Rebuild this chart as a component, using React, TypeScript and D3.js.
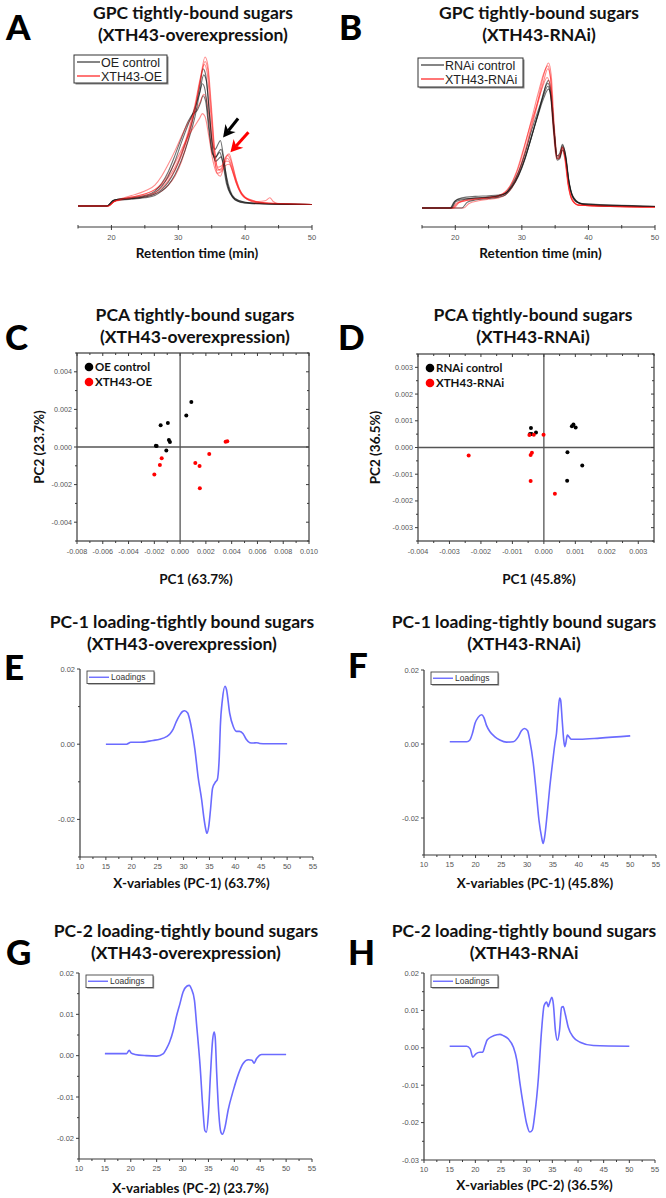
import React from 'react';
import * as d3 from 'd3';

type Pt = [number, number];

// ---- GPC traces (retention time in min, relative intensity) ----
const oeControlTraces: Pt[][] = [
  [[15, 0], [19.3, 0], [20.2, 0.035], [21, 0.045], [23, 0.05], [25, 0.06], [26.5, 0.08], [27.5, 0.11], [28.5, 0.16], [29.5, 0.24], [30.5, 0.35], [31.5, 0.48], [32.5, 0.64], [33.2, 0.8], [33.7, 0.92], [34.1, 0.88], [34.6, 0.65], [35.1, 0.42], [35.5, 0.38], [36, 0.42], [36.3, 0.44], [36.7, 0.35], [37.2, 0.2], [37.8, 0.1], [38.5, 0.05], [40, 0.025], [43, 0.015], [50, 0.01]],
  [[15, 0], [19.3, 0], [20.2, 0.035], [21, 0.045], [23, 0.055], [25, 0.07], [26.5, 0.1], [27.5, 0.15], [28.5, 0.23], [29.5, 0.34], [30.5, 0.46], [31.5, 0.57], [32.2, 0.62], [32.8, 0.64], [33.3, 0.69], [33.7, 0.74], [34.1, 0.7], [34.6, 0.5], [35.1, 0.35], [35.6, 0.33], [36.2, 0.36], [36.7, 0.28], [37.2, 0.15], [37.8, 0.08], [38.5, 0.04], [40, 0.02], [50, 0.01]],
  [[15, 0], [19.4, 0], [20.3, 0.03], [21, 0.04], [23, 0.045], [25, 0.055], [26.5, 0.07], [27.5, 0.1], [28.5, 0.14], [29.5, 0.21], [30.5, 0.31], [31.5, 0.44], [32.5, 0.6], [33.2, 0.76], [33.8, 0.88], [34.2, 0.84], [34.7, 0.6], [35.2, 0.36], [35.6, 0.3], [36.1, 0.32], [36.4, 0.33], [36.8, 0.27], [37.3, 0.15], [38, 0.07], [39, 0.03], [41, 0.015], [50, 0.01]],
  [[15, 0], [19.3, 0], [20.2, 0.035], [21, 0.045], [23, 0.05], [25, 0.065], [26.5, 0.09], [27.5, 0.13], [28.5, 0.2], [29.5, 0.3], [30.5, 0.43], [31.5, 0.55], [32.5, 0.66], [33.2, 0.76], [33.6, 0.82], [34, 0.78], [34.5, 0.58], [35, 0.38], [35.5, 0.32], [36, 0.36], [36.4, 0.38], [36.9, 0.28], [37.4, 0.14], [38, 0.07], [39, 0.035], [41, 0.02], [50, 0.01]],
];

const oeXthTraces: Pt[][] = [
  [[15, 0], [19.5, 0], [20.4, 0.03], [21.5, 0.04], [23, 0.05], [25, 0.06], [26.5, 0.08], [27.5, 0.1], [28.5, 0.14], [29.5, 0.2], [30.5, 0.3], [31.5, 0.45], [32.5, 0.65], [33.3, 0.85], [34, 1.0], [34.4, 0.95], [34.9, 0.7], [35.4, 0.4], [35.9, 0.25], [36.4, 0.24], [36.9, 0.3], [37.4, 0.34], [37.9, 0.3], [38.5, 0.2], [39.2, 0.11], [40, 0.06], [41, 0.04], [42, 0.03], [43, 0.035], [43.7, 0.055], [44.2, 0.03], [45, 0.015], [50, 0.01]],
  [[15, 0], [19.5, 0], [20.4, 0.03], [21.5, 0.045], [23, 0.06], [25, 0.08], [26.5, 0.11], [27.5, 0.14], [28.5, 0.19], [29.5, 0.26], [30.5, 0.36], [31.5, 0.5], [32.5, 0.68], [33.3, 0.86], [33.9, 0.95], [34.3, 0.9], [34.8, 0.65], [35.3, 0.38], [35.8, 0.22], [36.3, 0.2], [36.8, 0.26], [37.3, 0.32], [37.8, 0.29], [38.4, 0.2], [39, 0.12], [40, 0.06], [41.5, 0.03], [43, 0.02], [50, 0.01]],
  [[15, 0], [19.5, 0], [20.4, 0.03], [21.5, 0.05], [23, 0.07], [25, 0.1], [26.5, 0.14], [27.5, 0.2], [28.5, 0.28], [29.5, 0.37], [30.5, 0.47], [31.5, 0.56], [32.5, 0.63], [33.3, 0.7], [33.8, 0.75], [34.2, 0.72], [34.8, 0.52], [35.3, 0.34], [35.8, 0.24], [36.4, 0.25], [37, 0.3], [37.5, 0.3], [38, 0.25], [38.6, 0.16], [39.4, 0.08], [40.5, 0.04], [42, 0.025], [50, 0.01]],
  [[15, 0], [19.5, 0], [20.4, 0.03], [21.5, 0.045], [23, 0.06], [25, 0.08], [26.5, 0.11], [27.5, 0.15], [28.5, 0.21], [29.5, 0.29], [30.5, 0.38], [31.5, 0.47], [32.5, 0.54], [33.2, 0.59], [33.6, 0.62], [34, 0.6], [34.6, 0.46], [35.2, 0.3], [35.8, 0.22], [36.4, 0.23], [37, 0.27], [37.6, 0.28], [38.2, 0.22], [38.8, 0.14], [39.6, 0.07], [41, 0.035], [43, 0.02], [50, 0.01]],
  [[15, 0], [19.5, 0], [20.4, 0.03], [21.5, 0.045], [23, 0.055], [25, 0.07], [26.5, 0.09], [27.5, 0.12], [28.5, 0.17], [29.5, 0.24], [30.5, 0.34], [31.5, 0.48], [32.5, 0.66], [33.3, 0.84], [34, 0.97], [34.4, 0.92], [34.9, 0.66], [35.4, 0.38], [35.9, 0.26], [36.5, 0.27], [37.1, 0.33], [37.6, 0.35], [38.1, 0.28], [38.7, 0.17], [39.5, 0.08], [40.5, 0.04], [42, 0.02], [50, 0.01]],
];

const rnaiControlTraces: Pt[][] = [
  [[15, 0], [19.2, 0], [19.8, 0.04], [20.5, 0.06], [22, 0.065], [24, 0.07], [26, 0.08], [27, 0.09], [28, 0.12], [29, 0.18], [30, 0.28], [31, 0.42], [32, 0.58], [33, 0.74], [33.7, 0.86], [34, 0.88], [34.4, 0.8], [34.9, 0.52], [35.3, 0.36], [35.7, 0.38], [36.1, 0.44], [36.5, 0.38], [37, 0.2], [37.5, 0.09], [38.3, 0.04], [40, 0.02], [45, 0.012], [50, 0.01]],
  [[15, 0], [21, 0], [21.8, 0.04], [23, 0.055], [25, 0.065], [26.5, 0.075], [27.5, 0.09], [28.5, 0.14], [29.5, 0.22], [30.5, 0.34], [31.5, 0.5], [32.5, 0.65], [33.3, 0.76], [34, 0.82], [34.4, 0.76], [34.9, 0.5], [35.3, 0.34], [35.7, 0.35], [36.1, 0.42], [36.5, 0.37], [37, 0.2], [37.6, 0.08], [38.5, 0.035], [40, 0.02], [50, 0.01]],
  [[15, 0], [19.3, 0], [20, 0.05], [21, 0.07], [23, 0.08], [25, 0.085], [26.5, 0.09], [27.5, 0.1], [28.5, 0.15], [29.5, 0.23], [30.5, 0.35], [31.5, 0.5], [32.5, 0.66], [33.3, 0.8], [33.9, 0.86], [34.3, 0.8], [34.8, 0.55], [35.3, 0.35], [35.7, 0.36], [36.1, 0.43], [36.6, 0.36], [37.1, 0.18], [37.8, 0.07], [39, 0.03], [50, 0.01]],
  [[15, 0], [19.4, 0], [20.1, 0.045], [21.5, 0.06], [23, 0.07], [25, 0.075], [26.5, 0.085], [27.5, 0.1], [28.5, 0.16], [29.5, 0.25], [30.5, 0.38], [31.5, 0.54], [32.5, 0.68], [33.3, 0.78], [33.9, 0.84], [34.3, 0.78], [34.8, 0.52], [35.3, 0.33], [35.7, 0.34], [36.1, 0.4], [36.6, 0.34], [37.1, 0.17], [37.8, 0.07], [39, 0.03], [50, 0.012]],
];

const rnaiXthTraces: Pt[][] = [
  [[15, 0], [19.6, 0], [20.3, 0.03], [21.5, 0.05], [23, 0.06], [25, 0.07], [26.5, 0.08], [27.5, 0.1], [28.5, 0.15], [29.5, 0.25], [30.5, 0.4], [31.5, 0.58], [32.5, 0.76], [33.3, 0.92], [34, 1.0], [34.4, 0.92], [34.9, 0.55], [35.3, 0.36], [35.7, 0.37], [36.1, 0.42], [36.5, 0.34], [37, 0.15], [37.6, 0.05], [38.5, 0.02], [50, 0.005]],
  [[15, 0], [21.3, 0], [22, 0.03], [23.5, 0.05], [25, 0.06], [26.5, 0.07], [27.5, 0.09], [28.5, 0.14], [29.5, 0.24], [30.5, 0.38], [31.5, 0.56], [32.5, 0.74], [33.3, 0.88], [33.9, 0.96], [34.3, 0.9], [34.8, 0.55], [35.3, 0.34], [35.7, 0.35], [36.1, 0.41], [36.5, 0.34], [37, 0.16], [37.6, 0.06], [38.5, 0.02], [50, 0.005]],
  [[15, 0], [19.8, 0], [20.6, 0.04], [22, 0.06], [24, 0.07], [26, 0.08], [27.2, 0.1], [28.2, 0.15], [29.2, 0.25], [30.2, 0.4], [31.2, 0.56], [32.2, 0.7], [33, 0.82], [33.8, 0.9], [34.2, 0.85], [34.7, 0.55], [35.2, 0.34], [35.6, 0.34], [36, 0.4], [36.4, 0.35], [36.9, 0.17], [37.5, 0.06], [38.5, 0.02], [50, 0.005]],
  [[15, 0], [19.5, 0], [20.2, 0.035], [21.5, 0.05], [23, 0.06], [25, 0.07], [26.5, 0.085], [27.5, 0.11], [28.5, 0.17], [29.5, 0.28], [30.5, 0.44], [31.5, 0.62], [32.5, 0.8], [33.3, 0.93], [33.9, 0.98], [34.3, 0.9], [34.8, 0.56], [35.3, 0.35], [35.7, 0.36], [36.1, 0.42], [36.5, 0.35], [37, 0.16], [37.6, 0.05], [38.5, 0.02], [50, 0.008]],
];

// ---- PCA scores (PC1, PC2) ----
const pcaOeControl: Pt[] = [
  [0.00087, 0.0024], [0.00048, 0.00167], [-0.00151, 0.00116], [-0.00095, 0.00128], [-0.00087, 0.00037],
  [-0.00079, 0.00027], [-0.00188, 0.00007], [-0.00182, 0.00005], [-0.00107, -0.00018],
];
const pcaOeXth: Pt[] = [
  [0.00353, 0.00028], [0.00366, 0.0003], [0.00226, -0.00037], [0.00118, -0.00085], [0.00151, -0.00101],
  [0.00153, -0.00219], [-0.00143, -0.0006], [-0.00157, -0.00096], [-0.002, -0.00146],
];
const pcaRnaiControl: Pt[] = [
  [-0.00041, 0.00073], [-0.00044, 0.00051], [-0.00039, 0.00051], [-0.00025, 0.00056], [0.00094, 0.00086],
  [0.00089, 0.0008], [0.00101, 0.00075], [0.00075, -0.00018], [0.00122, -0.00067], [0.00074, -0.00124],
];
const pcaRnaiXth: Pt[] = [
  [-0.00046, 0.00047], [-0.00032, 0.00048], [-0.00001, 0.00048], [-0.00038, -0.0002], [-0.00042, -0.00028],
  [-0.00239, -0.0003], [-0.00042, -0.00125], [0.00035, -0.00173],
];

// ---- loadings (x variable, loading) ----
const loadingPc1Oe: Pt[] = [
  [15, 0], [19, 0], [19.8, 0.0005], [21.6, 0.0005], [24.1, 0.001], [25.4, 0.0013], [26.7, 0.002], [27.4, 0.0028], [28, 0.004],
  [28.6, 0.006], [29.3, 0.0078], [29.8, 0.0087], [30.2, 0.0089], [30.8, 0.0083], [31.2, 0.0065], [31.7, 0.003], [32.2, -0.0015],
  [32.8, -0.0086], [33.5, -0.0148], [33.9, -0.0193], [34.4, -0.0233], [34.5, -0.0237], [34.9, -0.0215], [35.2, -0.0175],
  [35.6, -0.0117], [36.2, -0.01], [36.5, -0.0095], [36.9, -0.0033], [37.1, 0.0047], [37.5, 0.0118], [38.0, 0.0154], [38.3, 0.0145],
  [38.9, 0.0083], [39.6, 0.0047], [40.2, 0.0034], [40.8, 0.0034], [41.5, 0.0028], [42.1, 0.0013], [42.8, 0.0004], [43.4, 0.0003],
  [44.1, 0.0004], [44.7, 0.0002], [46, 0.0001], [50, 0.0001],
];
const loadingPc1Rnai: Pt[] = [
  [15, 0.0006], [18.3, 0.0006], [18.9, 0.0011], [19.4, 0.0029], [19.9, 0.0056], [20.5, 0.0072], [21.2, 0.0079], [21.6, 0.0072],
  [22.1, 0.0051], [22.8, 0.0033], [23.7, 0.002], [24.7, 0.0011], [26.0, 0.0005], [27.3, 0.0006], [28.3, 0.002], [28.9, 0.0036],
  [29.5, 0.0042], [30.1, 0.0036], [30.5, 0.0011], [31.2, -0.0052], [31.8, -0.0134], [32.3, -0.0206], [32.8, -0.0251],
  [33.1, -0.0269], [33.4, -0.0251], [33.9, -0.0188], [34.4, -0.0116], [35.0, -0.0043], [35.4, 0.0002], [35.7, 0.0029],
  [36.0, 0.0083], [36.3, 0.0124], [36.5, 0.0119], [36.8, 0.0065], [37.1, 0.0011], [37.3, -0.0007], [37.5, 0.0002], [37.8, 0.0024],
  [38.1, 0.002], [38.6, 0.0013], [40.2, 0.0013], [44.1, 0.0016], [50, 0.0022],
];
const loadingPc2Oe: Pt[] = [
  [15, 0.0005], [19.2, 0.0005], [19.7, 0.0013], [20.1, 0.0006], [20.8, 0.0003], [23.0, 0], [25.0, -0.0001], [26.3, 0.0005],
  [26.9, 0.0017], [27.5, 0.0033], [28.2, 0.0061], [28.8, 0.0094], [29.5, 0.0126], [30.1, 0.0154], [30.8, 0.0168], [31.3, 0.017],
  [31.7, 0.0162], [32.3, 0.0134], [32.7, 0.0077], [33.4, -0.0027], [33.9, -0.0124], [34.3, -0.0181], [34.6, -0.0185],
  [35.0, -0.014], [35.4, -0.0044], [35.8, 0.0037], [36.1, 0.0057], [36.3, 0.0045], [36.6, -0.0044], [37.0, -0.014],
  [37.4, -0.0185], [37.7, -0.019], [38.2, -0.0173], [38.8, -0.0132], [39.8, -0.0084], [40.8, -0.0044], [41.7, -0.0019],
  [42.7, -0.001], [43.4, -0.0011], [43.8, -0.0018], [44.3, -0.0007], [45.3, 0.0003], [50, 0.0003],
];
const loadingPc2Rnai: Pt[] = [
  [15, 0.0004], [18.3, 0.0004], [19.0, -0.0003], [19.5, -0.0025], [20.1, -0.0016], [20.9, -0.0012], [21.4, -0.0012],
  [21.9, 0.0006], [22.3, 0.0021], [23.2, 0.003], [24.2, 0.0035], [24.8, 0.0036], [25.5, 0.0032], [26.4, 0.0024], [27.4, 0.0002],
  [28.1, -0.0034], [28.7, -0.0096], [29.4, -0.0158], [30.0, -0.0203], [30.6, -0.0225], [31.1, -0.022], [31.6, -0.0176],
  [32.3, -0.0078], [32.9, 0.0046], [33.4, 0.0113], [33.9, 0.0122], [34.2, 0.011], [34.5, 0.0122], [34.9, 0.0135], [35.2, 0.0117],
  [35.6, 0.0046], [36.0, 0.002], [36.4, 0.0046], [36.8, 0.0108], [37.1, 0.011], [37.5, 0.0091], [38.1, 0.0055], [39.1, 0.0028],
  [40.4, 0.0015], [43.0, 0.0006], [50, 0.0004],
];

const gpcMajorTicks = [20, 30, 40, 50];
const gpcMinorTicks = [15, 25, 35, 45];
const loadingXTicks = [10, 15, 20, 25, 30, 35, 40, 45, 50, 55];

const FONT_TITLE = 'Lato, "Open Sans", sans-serif';
const FONT_TICK = '"Liberation Sans", Arial, sans-serif';
const AXIS = '#3a3a3a';
const BLUE = '#6b6bff';

const fmt3 = (v: number) => d3.format('.3f')(v).replace('\u2212', '-');
const fmt2 = (v: number) => d3.format('.2f')(v).replace('\u2212', '-');

function Title({ cx, y, lines }: { cx: number; y: number; lines: string[] }) {
  return (
    <text x={cx} y={y} textAnchor="middle" fontFamily={FONT_TITLE} fontWeight="bold" fontSize={17.5} fill="#111">
      {lines.map((l, i) => (
        <tspan key={i} x={cx} dy={i === 0 ? 0 : 22}>{l}</tspan>
      ))}
    </text>
  );
}

function Letter({ x, y, t }: { x: number; y: number; t: string }) {
  return <text x={x} y={y} fontFamily={FONT_TITLE} fontWeight="900" fontSize={35} fill="#000">{t}</text>;
}

function Arrow({ tx, ty, dx, dy, color }: { tx: number; ty: number; dx: number; dy: number; color: string }) {
  const len = Math.hypot(dx, dy);
  const ux = dx / len, uy = dy / len;
  const nx = -uy, ny = ux;
  const L = 12, Wd = 6.5, notch = 3.5;
  const p = [
    [tx, ty],
    [tx + ux * L + nx * Wd, ty + uy * L + ny * Wd],
    [tx + ux * (L - notch), ty + uy * (L - notch)],
    [tx + ux * L - nx * Wd, ty + uy * L - ny * Wd],
  ];
  return (
    <g>
      <line x1={tx + ux * (L - notch)} y1={ty + uy * (L - notch)} x2={tx + dx} y2={ty + dy} stroke={color} strokeWidth={3} />
      <path d={`M${p.map(q => q.join(',')).join('L')}Z`} fill={color} />
    </g>
  );
}

interface GpcProps {
  xRange: [number, number];
  yRange: [number, number];
  axisY: number;
  controls: Pt[][];
  xths: Pt[][];
  labels: [string, string];
  legend: { x: number; y: number; w: number; h: number };
  arrows?: { at: Pt; dx: number; dy: number; color: string }[];
}

function GpcPanel({ xRange, yRange, axisY, controls, xths, labels, legend, arrows }: GpcProps) {
  const x = d3.scaleLinear().domain([15, 50]).range(xRange);
  const y = d3.scaleLinear().domain([0, 1]).range(yRange);
  const line = d3.line<Pt>().x(d => x(d[0])).y(d => y(d[1])).curve(d3.curveMonotoneX);
  const n = Math.max(controls.length, xths.length);
  const order: { t: Pt[]; c: string }[] = [];
  for (let i = 0; i < n; i++) {
    if (xths[i]) order.push({ t: xths[i], c: '#ff1a1a' });
    if (controls[i]) order.push({ t: controls[i], c: '#111' });
  }
  const midX = (xRange[0] + xRange[1]) / 2;
  return (
    <g>
      {order.map((o, i) => (
        <path key={i} d={line(o.t) || ''} fill="none" stroke={o.c} strokeOpacity={o.c === '#111' ? 0.6 : 0.5} strokeWidth={1.1} />
      ))}
      {arrows && arrows.map((a, i) => (
        <Arrow key={i} tx={x(a.at[0])} ty={y(a.at[1])} dx={a.dx} dy={a.dy} color={a.color} />
      ))}
      <rect x={legend.x + 1.5} y={legend.y + 1.5} width={legend.w} height={legend.h} fill="#888" />
      <rect x={legend.x} y={legend.y} width={legend.w} height={legend.h} fill="#fff" stroke="#333" strokeWidth={1} />
      {labels.map((l, i) => {
        const ly = legend.y + 7 + i * 14;
        return (
          <g key={l}>
            <line x1={legend.x + 3} x2={legend.x + 26} y1={ly} y2={ly} stroke={i === 0 ? '#333' : '#ff1a1a'} strokeWidth={1.2} />
            <text x={legend.x + 27} y={ly + 4.5} fontFamily={FONT_TICK} fontSize={12.5} fill="#222">{l}</text>
          </g>
        );
      })}
      <line x1={x(15)} x2={x(50)} y1={axisY} y2={axisY} stroke={AXIS} strokeWidth={1} />
      {gpcMajorTicks.map(t => (
        <g key={t}>
          <line x1={x(t)} x2={x(t)} y1={axisY - 2} y2={axisY + 3} stroke={AXIS} />
          <text x={x(t)} y={axisY + 13} textAnchor="middle" fontFamily={FONT_TICK} fontSize={7.5} fill="#555">{t}</text>
        </g>
      ))}
      {gpcMinorTicks.map(t => (
        <line key={t} x1={x(t)} x2={x(t)} y1={axisY - 2} y2={axisY + 1.5} stroke={AXIS} />
      ))}
      <text x={midX + 2} y={axisY + 31} textAnchor="middle" fontFamily={FONT_TITLE} fontWeight="bold" fontSize={13.5} fill="#111">
        Retention time (min)
      </text>
    </g>
  );
}

interface PcaProps {
  xDomain: [number, number];
  xRange: [number, number];
  yDomain: [number, number];
  yRange: [number, number];
  xMajor: number[];
  xMinor: number[];
  yMajor: number[];
  yMinor: number[];
  control: Pt[];
  xth: Pt[];
  labels: [string, string];
  xTitle: string;
  yTitle: string;
  yTitleX: number;
}

function PcaPanel(p: PcaProps) {
  const x = d3.scaleLinear().domain(p.xDomain).range(p.xRange);
  const y = d3.scaleLinear().domain(p.yDomain).range(p.yRange);
  const [l, r] = p.xRange;
  const [b, t] = p.yRange;
  return (
    <g>
      <rect x={l} y={t} width={r - l} height={b - t} fill="none" stroke={AXIS} strokeWidth={1.2} />
      <line x1={x(0)} x2={x(0)} y1={t} y2={b} stroke="#555" strokeWidth={1.3} />
      <line x1={l} x2={r} y1={y(0)} y2={y(0)} stroke="#555" strokeWidth={1.3} />
      {p.xMajor.map(v => (
        <g key={'xm' + v}>
          <line x1={x(v)} x2={x(v)} y1={b} y2={b + 3} stroke={AXIS} />
          <line x1={x(v)} x2={x(v)} y1={t} y2={t + 3} stroke={AXIS} />
          <text x={x(v)} y={b + 13} textAnchor="middle" fontFamily={FONT_TICK} fontSize={7.2} fill="#555">{fmt3(v)}</text>
        </g>
      ))}
      {p.xMinor.map(v => (
        <g key={'xn' + v}>
          <line x1={x(v)} x2={x(v)} y1={b} y2={b + 2} stroke={AXIS} />
          <line x1={x(v)} x2={x(v)} y1={t} y2={t + 2} stroke={AXIS} />
        </g>
      ))}
      {p.yMajor.map(v => (
        <g key={'ym' + v}>
          <line x1={l - 3} x2={l} y1={y(v)} y2={y(v)} stroke={AXIS} />
          <line x1={r - 3} x2={r} y1={y(v)} y2={y(v)} stroke={AXIS} />
          <text x={l - 5} y={y(v) + 2.5} textAnchor="end" fontFamily={FONT_TICK} fontSize={7.2} fill="#555">{fmt3(v)}</text>
        </g>
      ))}
      {p.yMinor.map(v => (
        <g key={'yn' + v}>
          <line x1={l - 2} x2={l} y1={y(v)} y2={y(v)} stroke={AXIS} />
          <line x1={r - 2} x2={r} y1={y(v)} y2={y(v)} stroke={AXIS} />
        </g>
      ))}
      {p.control.map((d, i) => <circle key={'c' + i} cx={x(d[0])} cy={y(d[1])} r={2} fill="#000" />)}
      {p.xth.map((d, i) => <circle key={'x' + i} cx={x(d[0])} cy={y(d[1])} r={2} fill="#ff0000" />)}
      {p.labels.map((lab, i) => (
        <g key={lab}>
          <circle cx={l + 12} cy={t + 14 + i * 15} r={4.3} fill={i === 0 ? '#000' : '#ff0000'} />
          <text x={l + 18} y={t + 18 + i * 15} fontFamily={FONT_TITLE} fontWeight="bold" fontSize={11.5} fill="#111">{lab}</text>
        </g>
      ))}
      <text x={(l + r) / 2 + 3} y={b + 43} textAnchor="middle" fontFamily={FONT_TITLE} fontWeight="bold" fontSize={13.5} fill="#111">{p.xTitle}</text>
      <text transform={`translate(${p.yTitleX},${(t + b) / 2}) rotate(-90)`} textAnchor="middle" fontFamily={FONT_TITLE} fontWeight="bold" fontSize={13.5} fill="#111">{p.yTitle}</text>
    </g>
  );
}

interface LoadProps {
  xRange: [number, number];
  yDomain: [number, number];
  yRange: [number, number];
  yMajor: number[];
  yMinor: number[];
  data: Pt[];
  xTitle: string;
  xTitleY: number;
}

function LoadingPanel(p: LoadProps) {
  const x = d3.scaleLinear().domain([10, 55]).range(p.xRange);
  const y = d3.scaleLinear().domain(p.yDomain).range(p.yRange);
  const line = d3.line<Pt>().x(d => x(d[0])).y(d => y(d[1])).curve(d3.curveMonotoneX);
  const [l, r] = p.xRange;
  const [b, t] = p.yRange;
  const lx = l + 7, ly = t + 2, lw = 67, lh = 12.5;
  return (
    <g>
      <line x1={l} x2={l} y1={t} y2={b} stroke={AXIS} strokeWidth={1.2} />
      <line x1={l} x2={r} y1={b} y2={b} stroke={AXIS} strokeWidth={1.2} />
      {loadingXTicks.map(v => (
        <g key={'x' + v}>
          <line x1={x(v)} x2={x(v)} y1={b} y2={b + 3} stroke={AXIS} />
          <text x={x(v)} y={b + 12} textAnchor="middle" fontFamily={FONT_TICK} fontSize={7.5} fill="#555">{v}</text>
        </g>
      ))}
      {loadingXTicks.slice(0, -1).map(v => (
        <line key={'xm' + v} x1={x(v + 2.5)} x2={x(v + 2.5)} y1={b} y2={b + 2} stroke={AXIS} />
      ))}
      {p.yMajor.map(v => (
        <g key={'y' + v}>
          <line x1={l - 3} x2={l} y1={y(v)} y2={y(v)} stroke={AXIS} />
          <text x={l - 5} y={y(v) + 2.5} textAnchor="end" fontFamily={FONT_TICK} fontSize={7.5} fill="#555">{fmt2(v)}</text>
        </g>
      ))}
      {p.yMinor.map(v => (
        <line key={'ym' + v} x1={l - 2} x2={l} y1={y(v)} y2={y(v)} stroke={AXIS} />
      ))}
      <path d={line(p.data) || ''} fill="none" stroke={BLUE} strokeWidth={1.6} />
      <rect x={lx + 1.2} y={ly + 1.2} width={lw} height={lh} fill="#999" />
      <rect x={lx} y={ly} width={lw} height={lh} fill="#fff" stroke="#444" strokeWidth={0.9} />
      <line x1={lx + 2} x2={lx + 22} y1={ly + lh / 2} y2={ly + lh / 2} stroke={BLUE} strokeWidth={1.4} />
      <text x={lx + 24} y={ly + lh / 2 + 3} fontFamily={FONT_TICK} fontSize={8.5} fill="#333">Loadings</text>
      <text x={(l + r) / 2 - 5} y={p.xTitleY} textAnchor="middle" fontFamily={FONT_TITLE} fontWeight="bold" fontSize={13.5} fill="#111">{p.xTitle}</text>
    </g>
  );
}

const stepRange = (a: number, b: number, s: number, k: number) => d3.range(a, b + 1, s).map(v => v / k);

export default function App() {
  return (
    <svg width={666} height={1198} style={{ position: 'absolute', left: 0, top: 0, background: '#fff' }}>
      <rect width={666} height={1198} fill="#fff" />

      {/* A */}
      <Letter x={6} y={40} t="A" />
      <Title cx={193} y={19} lines={['GPC tightly-bound sugars', '(XTH43-overexpression)']} />
      <GpcPanel
        xRange={[78, 312]} yRange={[206, 57]} axisY={227}
        controls={oeControlTraces} xths={oeXthTraces}
        labels={['OE control', 'XTH43-OE']}
        legend={{ x: 74, y: 55, w: 93, h: 28 }}
        arrows={[
          { at: [36.7, 0.46], dx: 15, dy: -19, color: '#000' },
          { at: [37.8, 0.36], dx: 18, dy: -20, color: '#ff0000' },
        ]}
      />

      {/* B */}
      <Letter x={339} y={40} t="B" />
      <Title cx={539} y={19} lines={['GPC tightly-bound sugars', '(XTH43-RNAi)']} />
      <GpcPanel
        xRange={[422, 655]} yRange={[208, 63]} axisY={227}
        controls={rnaiControlTraces} xths={rnaiXthTraces}
        labels={['RNAi control', 'XTH43-RNAi']}
        legend={{ x: 418, y: 58, w: 105, h: 29 }}
      />

      {/* C */}
      <Letter x={5} y={350} t="C" />
      <Title cx={195} y={321} lines={['PCA tightly-bound sugars', '(XTH43-overexpression)']} />
      <PcaPanel
        xDomain={[-0.008, 0.01]} xRange={[77, 309]}
        yDomain={[-0.005, 0.005]} yRange={[541, 353]}
        xMajor={stepRange(-8, 10, 2, 1000)} xMinor={stepRange(-7, 9, 2, 1000)}
        yMajor={stepRange(-4, 4, 2, 1000)} yMinor={stepRange(-5, 5, 2, 1000)}
        control={pcaOeControl} xth={pcaOeXth}
        labels={['OE control', 'XTH43-OE']}
        xTitle="PC1 (63.7%)" yTitle="PC2 (23.7%)" yTitleX={44}
      />

      {/* D */}
      <Letter x={338} y={350} t="D" />
      <Title cx={533} y={321} lines={['PCA tightly-bound sugars', '(XTH43-RNAi)']} />
      <PcaPanel
        xDomain={[-0.004, 0.0035]} xRange={[418, 654]}
        yDomain={[-0.0035, 0.0035]} yRange={[541, 354]}
        xMajor={stepRange(-4, 3, 1, 1000)} xMinor={stepRange(-35, 35, 10, 10000)}
        yMajor={stepRange(-3, 3, 1, 1000)} yMinor={stepRange(-35, 35, 10, 10000)}
        control={pcaRnaiControl} xth={pcaRnaiXth}
        labels={['RNAi control', 'XTH43-RNAi']}
        xTitle="PC1 (45.8%)" yTitle="PC2 (36.5%)" yTitleX={380}
      />

      {/* E */}
      <Letter x={4} y={680} t="E" />
      <Title cx={182} y={628} lines={['PC-1 loading-tightly bound sugars', '(XTH43-overexpression)']} />
      <LoadingPanel
        xRange={[80, 313]} yDomain={[-0.03, 0.02]} yRange={[857, 669]}
        yMajor={[-0.02, 0, 0.02]} yMinor={[-0.03, -0.01, 0.01]}
        data={loadingPc1Oe} xTitle="X-variables (PC-1) (63.7%)" xTitleY={888}
      />

      {/* F */}
      <Letter x={348} y={678} t="F" />
      <Title cx={524} y={628} lines={['PC-1 loading-tightly bound sugars', '(XTH43-RNAi)']} />
      <LoadingPanel
        xRange={[424, 656]} yDomain={[-0.03, 0.02]} yRange={[855, 670]}
        yMajor={[-0.02, 0, 0.02]} yMinor={[-0.03, -0.01, 0.01]}
        data={loadingPc1Rnai} xTitle="X-variables (PC-1) (45.8%)" xTitleY={888}
      />

      {/* G */}
      <Letter x={6} y={965} t="G" />
      <Title cx={186} y={937} lines={['PC-2 loading-tightly bound sugars', '(XTH43-overexpression)']} />
      <LoadingPanel
        xRange={[79, 312]} yDomain={[-0.025, 0.02]} yRange={[1159, 973]}
        yMajor={[-0.02, -0.01, 0, 0.01, 0.02]} yMinor={[-0.025, -0.015, -0.005, 0.005, 0.015]}
        data={loadingPc2Oe} xTitle="X-variables (PC-2) (23.7%)" xTitleY={1193}
      />

      {/* H */}
      <Letter x={348} y={965} t="H" />
      <Title cx={524} y={937} lines={['PC-2 loading-tightly bound sugars', '(XTH43-RNAi']} />
      <LoadingPanel
        xRange={[424, 655]} yDomain={[-0.03, 0.02]} yRange={[1160, 973]}
        yMajor={[-0.03, -0.02, -0.01, 0, 0.01, 0.02]} yMinor={[-0.025, -0.015, -0.005, 0.005, 0.015]}
        data={loadingPc2Rnai} xTitle="X-variables (PC-2) (36.5%)" xTitleY={1190}
      />
    </svg>
  );
}
